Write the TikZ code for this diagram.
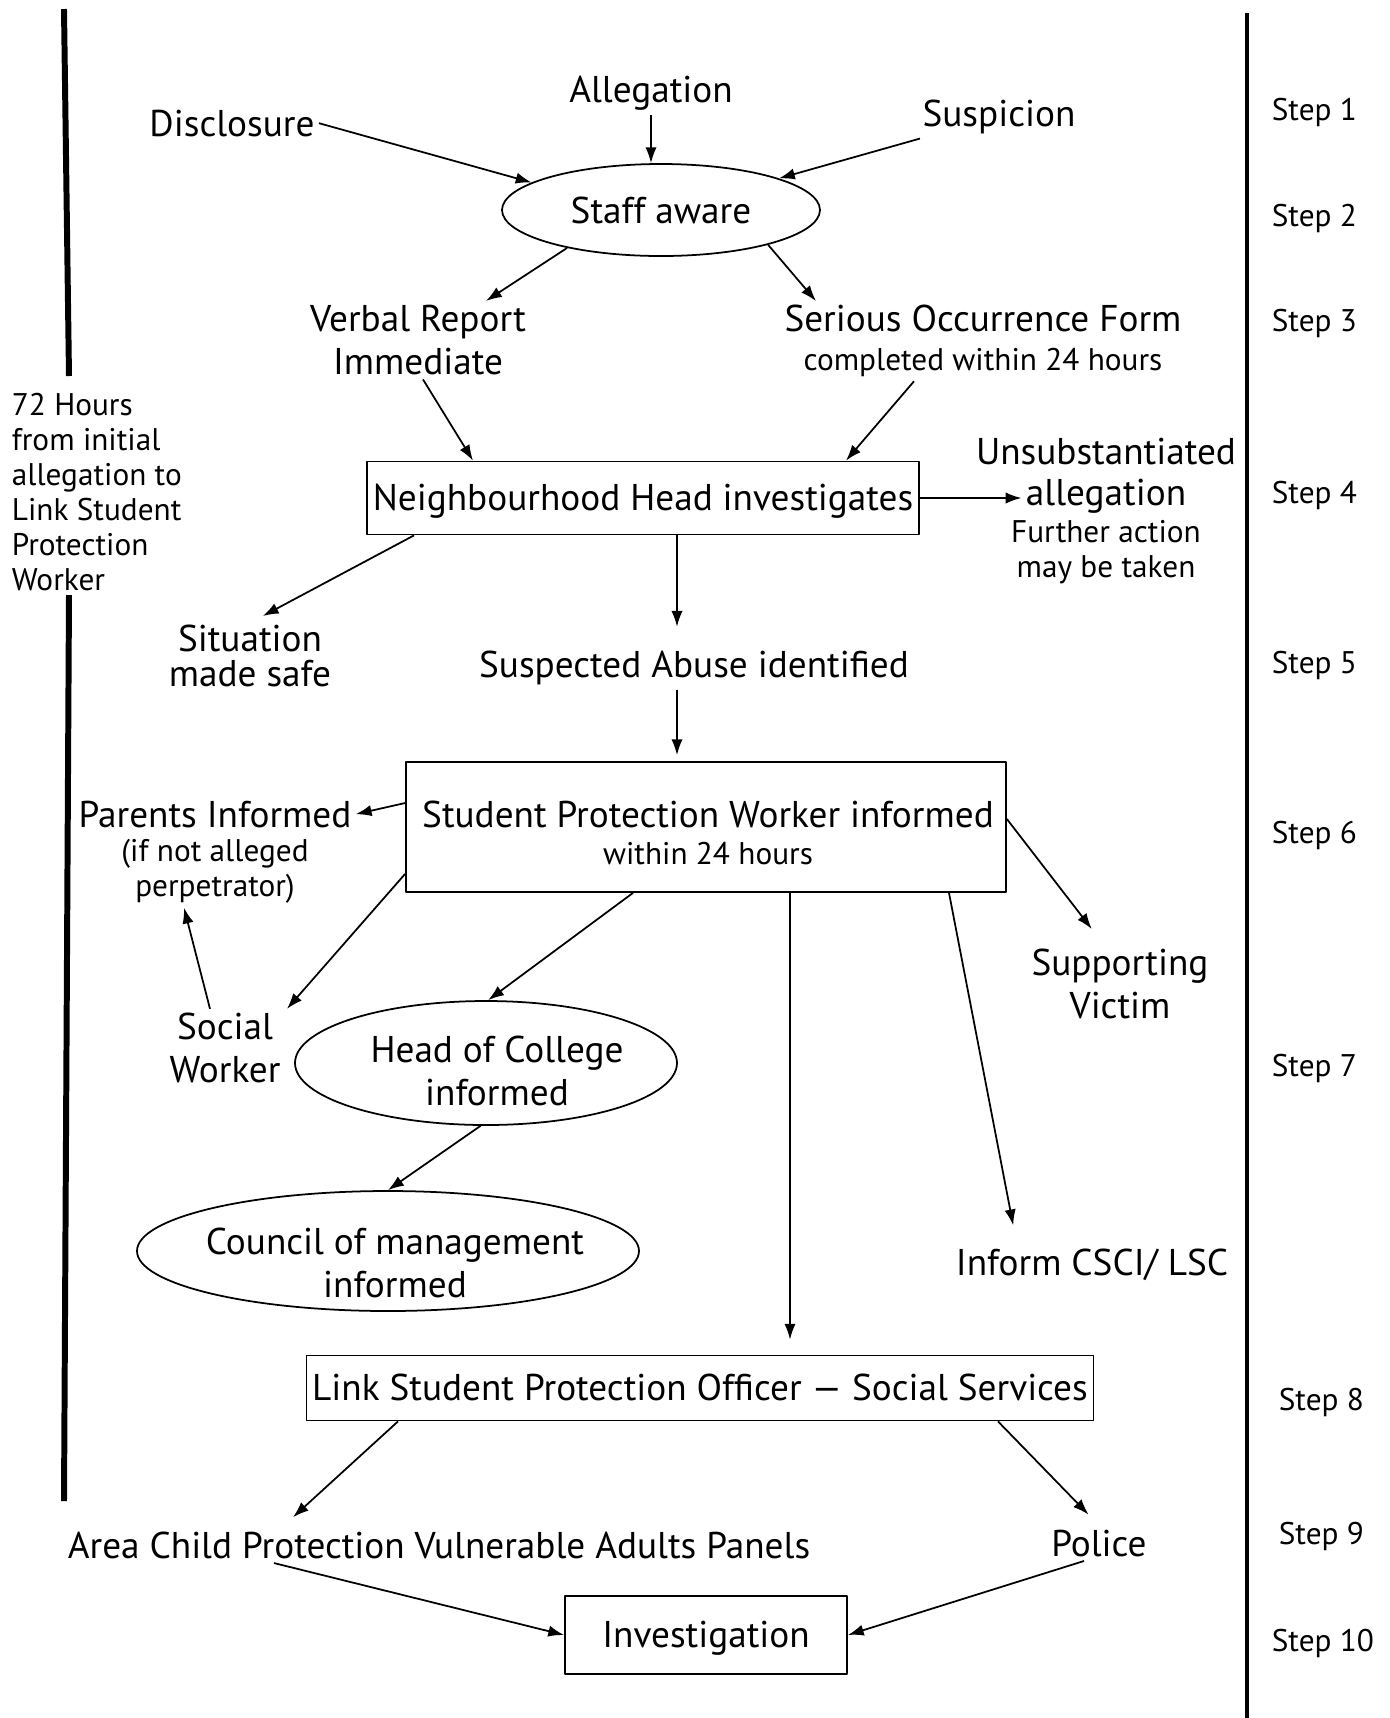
\documentclass[tikz,border=0pt]{standalone}
\usepackage{fontspec}
\setmainfont{PT Sans}
\usetikzlibrary{arrows.meta,shapes.geometric}
\newcommand{\smtext}{\fontsize{8.9}{10}\selectfont}
\begin{document}
\begin{tikzpicture}[x=0.1mm, y=-0.1mm, font=\fontsize{10.6}{12.2}\selectfont, line join=round, >={Latex[length=4.5pt,width=3.2pt]}, line width=0.5pt,
	txt/.style={inner sep=1pt, align=center, yshift=-0.9pt},
	box/.style={draw, rectangle, inner sep=0pt, align=center},
	onebox/.style={box, text height=0.75em, text depth=0.05em},
	oval/.style={draw, ellipse, inner sep=0pt, align=center},
	steplbl/.style={anchor=west, inner sep=0pt, font=\smtext}]
	%Khung.
	\useasboundingbox (0,0) rectangle (1390,1718);
	\draw[line width=1.7pt] (64,9)--(69,376);
	\draw[line width=1.7pt] (69,595)--(64,1501);
	\draw[line width=0.9pt] (1247,13)--(1247,1718);
	\node[anchor=west, align=left, inner sep=0pt, font=\smtext] (hours) at (11,492) {72 Hours\\from initial\\allegation to\\Link Student\\Protection\\Worker};
	%Cac buoc.
	\foreach \n/\y/\x in {1/112/1271, 2/218/1271, 3/323/1271, 4/495/1271, 5/665/1271, 6/835/1271, 7/1068/1271, 8/1402/1278, 9/1536/1278, 10/1643/1271}
		\node[steplbl] (step\n) at (\x,\y) {Step \n};
	%Nut.
	\node[txt] (alleg) at (651,90) {Allegation};
	\node[txt] (disc) at (232,120) {Disclosure};
	\node[txt] (susp) at (999,114) {Suspicion};
	\node[oval, minimum width=31.8mm, minimum height=9.2mm] (staff) at (661,210) {Staff aware};
	\node[txt] (verbal) at (418,337) {Verbal Report\\Immediate};
	\node[txt] (sof) at (983,338) {Serious Occurrence Form\\[-1.2pt]{\smtext completed within 24 hours}};
	\node[onebox, minimum width=55.2mm, minimum height=7.3mm] (nh) at (643,498) {Neighbourhood Head investigates};
	\node[txt] (unsubA) at (1106,448) {Unsubstantiated};
	\node[txt] (unsubB) at (1106,493) {allegation};
	\node[txt, font=\smtext] (unsubC) at (1106,549) {Further action\\may be taken};
	\node[txt] (safe) at (250,653) {Situation\\[-2.2pt]made safe};
	\node[txt] (abuse) at (694,665) {Suspected Abuse identified};
	\node[box, minimum width=60mm, minimum height=13mm] (spw) at (706,827) {};
	\node[txt] (spwtxt) at (708,830) {Student Protection Worker informed\\[-1.6pt]{\smtext within 24 hours}};
	\node[txt] (parentsA) at (215,811) {Parents Informed};
	\node[txt, font=\smtext] (parentsB) at (215,868) {(if not alleged\\perpetrator)};
	\node[txt] (social) at (225,1045) {Social\\Worker};
	\node[oval, minimum width=38.2mm, minimum height=12.4mm] (college) at (486,1063) {};
	\node[txt] (collegetxt) at (497,1068) {Head of College\\informed};
	\node[oval, minimum width=50.2mm, minimum height=12mm] (council) at (388,1251) {};
	\node[txt] (counciltxt) at (395,1260) {Council of management\\informed};
	\node[txt] (victim) at (1120,981) {Supporting\\Victim};
	\node[txt] (csci) at (1092,1262) {Inform CSCI/ LSC};
	\node[onebox, minimum width=78.7mm, minimum height=6.5mm] (lspo) at (700,1388) {Link Student Protection Officer --- Social Services};
	\node[txt] (area) at (439,1542) {Area Child Protection Vulnerable Adults Panels};
	\node[txt] (police) at (1099,1540) {Police};
	\node[onebox, minimum width=28.2mm, minimum height=7.8mm] (invest) at (706,1635) {Investigation};
	%Mui ten.
	\draw[->] (disc.east) -- (staff.168);
	\draw[->] (alleg.south) -- (alleg.south |- staff.north);
	\draw[->] ([xshift=-7.9mm]susp.south) -- (staff.15);
	\draw[->] (staff.202) -- ([xshift=6.8mm]verbal.north);
	\draw[->] (staff.-18) -- ([xshift=-16.7mm]sof.north);
	\draw[->] ([xshift=0.5mm]verbal.south) -- ([xshift=-17mm]nh.north);
	\draw[->] ([xshift=-6.9mm]sof.south) -- ([xshift=20.3mm]nh.north);
	\draw[->] (nh.east) -- (nh.east -| unsubB.west);
	\draw[->,shorten >=1mm] ([xshift=-22.9mm]nh.south) -- ([xshift=0.4mm]safe.north);
	\draw[->,shorten >=2mm] ([xshift=3.4mm]nh.south) -- ([xshift=3.4mm]nh.south |- abuse.north);
	\draw[->,shorten >=0.6mm] ([xshift=-1.7mm]abuse.south) -- ([xshift=-1.7mm]abuse.south |- spw.north);
	\draw[->] ([yshift=2.4mm]spw.west) -- (parentsA.east);
	\draw[->] ([yshift=1.9mm]spw.south west) -- ([xshift=6.2mm]social.north);
	\draw[->] ([xshift=-1.5mm]social.north) -- ([xshift=-3.1mm]parentsB.south);
	\draw[->] ([xshift=-7.3mm]spw.south) -- (college.88);
	\draw[->] (college.265) -- (council.north);
	\draw[->,shorten >=1.5mm] ([xshift=8.4mm]spw.south) -- ([xshift=8.4mm]spw.south |- lspo.north);
	\draw[->,shorten >=2mm] ([yshift=0.8mm]spw.east) -- ([xshift=-1.6mm]victim.north);
	\draw[->,shorten >=2mm] ([xshift=24.3mm]spw.south) -- ([xshift=-7.5mm]csci.north);
	\draw[->,shorten >=1.5mm] ([xshift=-30.2mm]lspo.south) -- ([xshift=-15.7mm]area.north);
	\draw[->,shorten >=1.5mm] ([xshift=29.8mm]lspo.south) -- (police.north);
	\draw[->] ([xshift=-16.5mm]area.south) -- (invest.west);
	\draw[->] ([xshift=-1.5mm]police.south) -- (invest.east);
\end{tikzpicture}
\end{document}
